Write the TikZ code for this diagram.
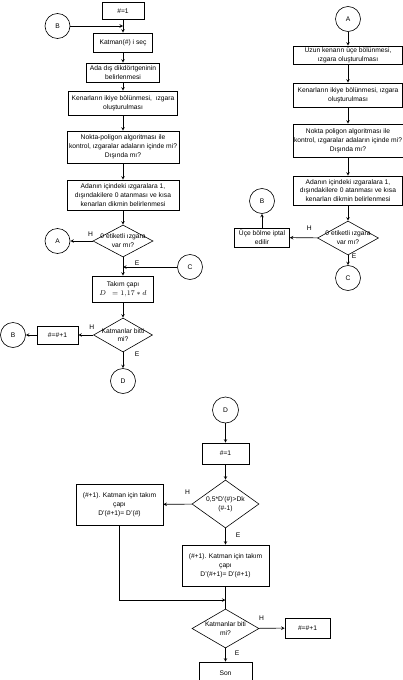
\documentclass[tikz,border=0pt]{standalone}
\usepackage{fontspec}
\setmainfont{Liberation Sans}
\usetikzlibrary{shapes.geometric}

\tikzset{
    procbox/.style={draw,
        rectangle,
        align=center,
        inner sep=1pt
    },
    decision/.style={draw,
        diamond,
        inner sep=0pt
    },
    connector/.style={draw,
        circle,
        minimum size=25pt,
        inner sep=0pt
    },
    ehlabel/.style={inner sep=2pt}
}

\begin{document}
\begin{tikzpicture}[x=1pt, y=-1pt, line width=0.6pt,
    font=\fontsize{6.7}{8.8}\selectfont]

    \useasboundingbox (0,0) rectangle (403,680);

    % left column
    \node[procbox, minimum width=42, minimum height=17] (n1) at (123,11) {\#=1};
    \node[connector] (B1) at (57.5,26) {B};
    \node[procbox, minimum width=59, minimum height=19] (katman) at (123,42.5) {Katman(\#) i seç};
    \node[procbox, minimum width=73, minimum height=19] (ada) at (123,72.5)
        {Ada dış dikdörtgeninin\\belirlenmesi};
    \node[procbox, minimum width=109, minimum height=24] (kenar) at (123,103)
        {Kenarların ikiye bölünmesi,\ \ ızgara\\oluşturulması};
    \node[procbox, minimum width=112, minimum height=32] (nokta) at (123,147)
        {Nokta-poligon algoritması ile\\kontrol, ızgaralar adaların içinde mi?\\Dışında mı?};
    \node[procbox, minimum width=112, minimum height=30] (adanin) at (123,195)
        {Adanın içindeki ızgaralara 1,\\dışındakilere 0 atanması ve kısa\\kenarları dikmin belirlenmesi};
    \node[decision, minimum width=60, minimum height=32,
        label={[align=center]center:0 etiketli ızgara\\var mı?}
    ] (dec1) at (123,241) {};
    \node[connector] (A1) at (57.5,241) {A};
    \node[connector] (C1) at (190,267) {C};
    \node[procbox, minimum width=61, minimum height=26] (takim) at (123,289)
        {Takım çapı\\$D\;\, = 1{,}17*d$};
    \node[decision, minimum width=59, minimum height=34,
        label={[align=center]center:Katmanlar bitti\\mi?}
    ] (dec2) at (123,335) {};
    \node[procbox, minimum width=41, minimum height=18] (inc1) at (57.5,335) {\#=\#+1};
    \node[connector] (B2) at (13,335) {B};
    \node[connector] (D1) at (123,381) {D};

    \draw[-stealth] (n1) -- (katman);
    \draw[-stealth] (B1) -- (B1 -| n1);
    \draw[-stealth] (katman) -- (ada);
    \draw[-stealth] (ada) -- (kenar);
    \draw[-stealth] (kenar) -- (nokta);
    \draw[-stealth] (nokta) -- (adanin);
    \draw[-stealth] (adanin) -- (dec1);
    \draw[-stealth] (dec1) -- (A1)
        node[ehlabel, pos=0.1, above=2.4pt]{H};
    \draw[-stealth] (dec1) -- (takim)
        node[ehlabel, pos=0.3, right=9.6pt]{E};
    \draw[-stealth] (C1) -- (C1 -| takim);
    \draw[-stealth] (takim) -- (dec2);
    \draw[-stealth] (dec2) -- (inc1)
        node[ehlabel, pos=0.1, above=3.4pt]{H};
    \draw[-stealth] (inc1) -- (B2);
    \draw[-stealth] (dec2) -- (D1)
        node[ehlabel, pos=0.1, right=9.6pt]{E};

    % right column
    \node[connector] (A2) at (348,19) {A};
    \node[procbox, minimum width=109, minimum height=18] (uzun) at (348,55)
        {Uzun kenarın üçe bölünmesi,\\ızgara oluşturulması};
    \node[procbox, minimum width=109, minimum height=24] (kenarb) at (348,95)
        {Kenarların ikiye bölünmesi, ızgara\\oluşturulması};
    \node[procbox, minimum width=109, minimum height=33] (noktab) at (348,140.5)
        {Nokta poligon algoritması ile\\kontrol, ızgaralar adaların içinde mi?\\Dışında mı?};
    \node[procbox, minimum width=109, minimum height=29] (adaninb) at (348,190.5)
        {Adanın içindeki ızgaralara 1,\\dışındakilere 0 atanması ve kısa\\kenarları dikmin belirlenmesi};
    \node[decision, minimum width=61, minimum height=34,
        label={[align=center]center:0 etiketli ızgara\\var mı?}
    ] (dec3) at (348,238) {};
    \node[procbox, minimum width=55, minimum height=19] (iptal) at (262,237.5)
        {Üçe bölme iptal\\edilir};
    \node[connector] (B3) at (262,201) {B};
    \node[connector] (C2) at (348,278) {C};

    \draw[-stealth] (A2) -- (uzun);
    \draw[-stealth] (uzun) -- (kenarb);
    \draw[-stealth] (kenarb) -- (noktab);
    \draw[-stealth] (noktab) -- (adaninb);
    \draw[-stealth] (adaninb) -- (dec3);
    \draw[-stealth] (dec3) -- (iptal)
        node[ehlabel, pos=0.3, above=5.4pt]{H};
    \draw[-stealth] (iptal) -- (B3);
    \draw[-stealth] (dec3) -- (C2)
        node[ehlabel, pos=0.1, right=1.6pt]{E};

    % bottom part
    \node[connector, minimum size=26pt] (D2) at (225.5,410) {D};
    \node[procbox, minimum width=47, minimum height=21] (n2) at (225.5,453.5) {\#=1};
    \node[decision, minimum width=67, minimum height=48,
        label={[align=center]center:0,5*D'(\#)>Dk\\(\#-1)}
    ] (dec4) at (225.5,504) {};
    \node[procbox, minimum width=87, minimum height=41] (lbox) at (119.5,504.5)
        {(\#+1). Katman için takım\\çapı\\D'(\#+1)= D'(\#)};
    \node[procbox, minimum width=87, minimum height=41] (rbox) at (225.5,565.5)
        {(\#+1). Katman için takım\\çapı\\D'(\#+1)= D'(\#+1)};
    \coordinate (m1) at (225.5,600);
    \node[decision, minimum width=67, minimum height=39,
        label={[align=center]center:Katmanlar biti\\mi?}
    ] (dec5) at (225.5,628.5) {};
    \node[procbox, minimum width=45, minimum height=20] (inc2) at (307.5,628) {\#=\#+1};
    \node[procbox, minimum width=53, minimum height=22] (son) at (225.5,673) {Son};

    \draw[-stealth] (D2) -- (n2);
    \draw[-stealth] (n2) -- (dec4);
    \draw[-stealth] (dec4) -- (lbox)
        node[ehlabel, pos=0.15, above=7.4pt]{H};
    \draw[-stealth] (dec4) -- (rbox)
        node[ehlabel, pos=0.4, right=8pt]{E};
    \draw[-stealth] (lbox) |- (m1);
    \draw (rbox) -- (dec5);
    \draw[-stealth] (dec5) -- (inc2)
        node[ehlabel, pos=0.1, above=5pt]{H};
    \draw[-stealth] (dec5) -- (son)
        node[ehlabel, pos=0.4, right=7pt]{E};

\end{tikzpicture}
\end{document}
